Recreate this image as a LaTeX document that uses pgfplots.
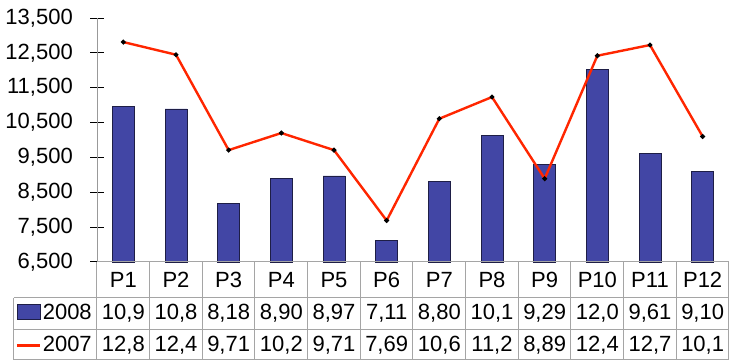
\documentclass[border=0pt]{standalone}
\usepackage{pgfplots}
\pgfplotsset{compat=1.18}
\usepackage{fontspec}
\setmainfont{Liberation Sans}
\definecolor{barblue}{RGB}{66,70,165}
\definecolor{baredge}{RGB}{30,30,70}
\definecolor{linered}{RGB}{255,38,0}
\definecolor{gridgray}{RGB}{165,165,165}
\begin{document}
\begin{tikzpicture}
\fontsize{11}{13}\selectfont
\path[use as bounding box] (-48.5pt,-50pt) rectangle (316pt,131pt);
\begin{axis}[
  at={(0,0)}, anchor=south west,
  scale only axis, width=316pt, height=122pt,
  xmin=0.5, xmax=12.5, ymin=6500, ymax=13500,
  axis x line=none, axis y line*=left,
  y axis line style={draw=gray!80},
  ytick={6500,7500,8500,9500,10500,11500,12500,13500},
  ytick align=center, major tick length=6.5pt,
  ytick style={black, line width=0.5pt},
  scaled y ticks=false,
  /pgf/number format/.cd, 1000 sep={,}, assume math mode=true,
  /pgfplots/.cd,
  yticklabel style={font=\fontsize{11}{13}\selectfont, xshift=-5pt},
  clip=false,
]
\addplot[ybar, bar width=11pt, fill=barblue, draw=baredge, line width=0.4pt]
  coordinates {(1,10955) (2,10890) (3,8180) (4,8900) (5,8970) (6,7110)
               (7,8800) (8,10125) (9,9290) (10,12020) (11,9610) (12,9100)};
\addplot[linered, line width=1.2pt, mark=*, mark size=0.5pt,
  mark options={fill=black, draw=black}]
  coordinates {(1,12810) (2,12447) (3,9710) (4,10200) (5,9710) (6,7690)
               (7,10611) (8,11233) (9,8890) (10,12418) (11,12725) (12,10100)};
\end{axis}
% data table
\draw[gridgray, line width=0.5pt] (0,0) -- (316pt,0);
\draw[gridgray, line width=0.5pt] (-41.5pt,-18pt) -- (316pt,-18pt);
\draw[gridgray, line width=0.5pt] (-41.5pt,-34pt) -- (316pt,-34pt);
\draw[gridgray, line width=0.5pt] (-41.5pt,-49pt) -- (316pt,-49pt);
\draw[gridgray, line width=0.5pt] (-41.5pt,-18pt) -- (-41.5pt,-49pt);
\foreach \k in {0,...,12} {
  \draw[gridgray, line width=0.5pt] (\k*26.333pt,0) -- (\k*26.333pt,-49pt);
}
\foreach \lab [count=\i] in {P1,P2,P3,P4,P5,P6,P7,P8,P9,P10,P11,P12} {
  \node[anchor=base, inner sep=0pt] at (\i*26.333pt-13.167pt,-13pt) {\lab};
}
\foreach \lab [count=\i] in {{10,9},{10,8},{8,18},{8,90},{8,97},{7,11},{8,80},{10,1},{9,29},{12,0},{9,61},{9,10}} {
  \node[anchor=base, inner sep=0pt] at (\i*26.333pt-13.167pt,-29pt) {\lab};
}
\foreach \lab [count=\i] in {{12,8},{12,4},{9,71},{10,2},{9,71},{7,69},{10,6},{11,2},{8,89},{12,4},{12,7},{10,1}} {
  \node[anchor=base, inner sep=0pt] at (\i*26.333pt-13.167pt,-44.8pt) {\lab};
}
% legend keys
\draw[fill=barblue, draw=baredge, line width=0.4pt] (-40pt,-21.3pt) rectangle (-28.3pt,-28.5pt);
\node[anchor=base west, inner sep=0pt] at (-27.3pt,-29pt) {2008};
\draw[linered, line width=1.2pt] (-40pt,-41.8pt) -- (-28.3pt,-41.8pt);
\node[anchor=base west, inner sep=0pt] at (-27.3pt,-44.8pt) {2007};
\end{tikzpicture}
\end{document}
